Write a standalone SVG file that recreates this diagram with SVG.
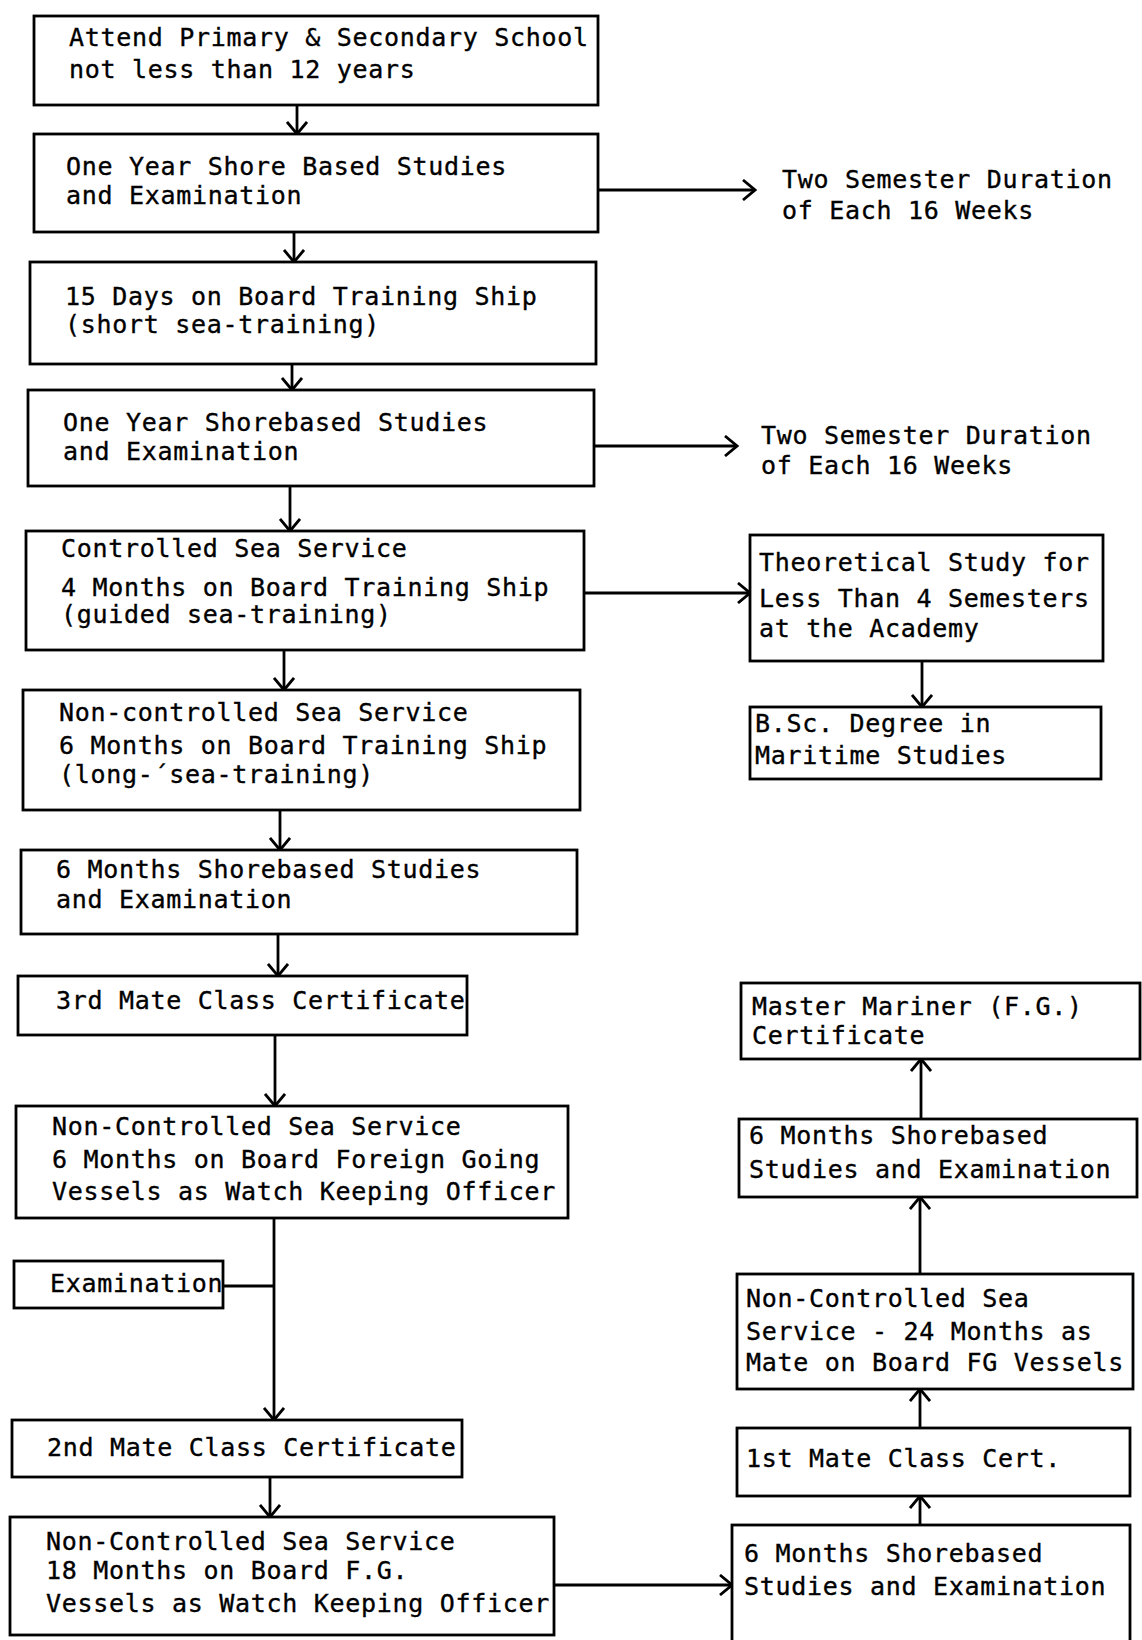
<svg xmlns="http://www.w3.org/2000/svg" width="1142" height="1640" viewBox="0 0 1142 1640">
<style>
.box{fill:#fff;stroke:#000;stroke-width:2.8}
.t{font-family:"DejaVu Sans Mono","Liberation Mono",monospace;font-size:25px;letter-spacing:0.7px;fill:#000;stroke:#000;stroke-width:0.35}
.c{fill:none;stroke:#000;stroke-width:2.8}
</style>
<defs>
<marker id="ah" viewBox="0 0 16 22" refX="14" refY="11" markerWidth="16" markerHeight="22" markerUnits="userSpaceOnUse" orient="auto">
<path d="M2,1 L14,11 L2,21" fill="none" stroke="#000" stroke-width="2.8"/>
</marker>
</defs>
<rect width="1142" height="1640" fill="#fff"/>
<g id="connectors">
<line class="c" x1="297" y1="105" x2="297" y2="134" marker-end="url(#ah)"/>
<line class="c" x1="294" y1="232" x2="294" y2="262" marker-end="url(#ah)"/>
<line class="c" x1="598" y1="190" x2="755" y2="190" marker-end="url(#ah)"/>
<line class="c" x1="292" y1="364" x2="292" y2="390" marker-end="url(#ah)"/>
<line class="c" x1="290" y1="486" x2="290" y2="531" marker-end="url(#ah)"/>
<line class="c" x1="594" y1="446" x2="737" y2="446" marker-end="url(#ah)"/>
<line class="c" x1="284" y1="650" x2="284" y2="690" marker-end="url(#ah)"/>
<line class="c" x1="584" y1="593" x2="750" y2="593" marker-end="url(#ah)"/>
<line class="c" x1="922" y1="661" x2="922" y2="707" marker-end="url(#ah)"/>
<line class="c" x1="280" y1="810" x2="280" y2="850" marker-end="url(#ah)"/>
<line class="c" x1="278" y1="934" x2="278" y2="976" marker-end="url(#ah)"/>
<line class="c" x1="275" y1="1035" x2="275" y2="1106" marker-end="url(#ah)"/>
<line class="c" x1="274" y1="1218" x2="274" y2="1420" marker-end="url(#ah)"/>
<line class="c" x1="223" y1="1286" x2="274" y2="1286"/>
<line class="c" x1="270" y1="1477" x2="270" y2="1517" marker-end="url(#ah)"/>
<line class="c" x1="554" y1="1585" x2="732" y2="1585" marker-end="url(#ah)"/>
<line class="c" x1="920" y1="1525" x2="920" y2="1496" marker-end="url(#ah)"/>
<line class="c" x1="920" y1="1428" x2="920" y2="1389" marker-end="url(#ah)"/>
<line class="c" x1="920" y1="1274" x2="920" y2="1197" marker-end="url(#ah)"/>
<line class="c" x1="921" y1="1119" x2="921" y2="1059" marker-end="url(#ah)"/>
</g>
<g id="n1"><rect class="box" x="34" y="16" width="564" height="89"/>
<text class="t" x="69" y="46">Attend Primary &amp; Secondary School</text>
<text class="t" x="69" y="78">not less than 12 years</text></g>
<g id="n2"><rect class="box" x="34" y="134" width="564" height="98"/>
<text class="t" x="66" y="175">One Year Shore Based Studies</text>
<text class="t" x="66" y="204">and Examination</text></g>
<g id="n2note">
<text class="t" x="782" y="188">Two Semester Duration</text>
<text class="t" x="782" y="219">of Each 16 Weeks</text></g>
<g id="n3"><rect class="box" x="30" y="262" width="566" height="102"/>
<text class="t" x="65" y="305">15 Days on Board Training Ship</text>
<text class="t" x="65" y="333">(short sea-training)</text></g>
<g id="n4"><rect class="box" x="28" y="390" width="566" height="96"/>
<text class="t" x="63" y="431">One Year Shorebased Studies</text>
<text class="t" x="63" y="460">and Examination</text></g>
<g id="n4note">
<text class="t" x="761" y="444">Two Semester Duration</text>
<text class="t" x="761" y="474">of Each 16 Weeks</text></g>
<g id="n5"><rect class="box" x="26" y="531" width="558" height="119"/>
<text class="t" x="61" y="557">Controlled Sea Service</text>
<text class="t" x="61" y="596">4 Months on Board Training Ship</text>
<text class="t" x="61" y="623">(guided sea-training)</text></g>
<g id="nT"><rect class="box" x="750" y="535" width="353" height="126"/>
<text class="t" x="759" y="571">Theoretical Study for</text>
<text class="t" x="759" y="607">Less Than 4 Semesters</text>
<text class="t" x="759" y="637">at the Academy</text></g>
<g id="nB"><rect class="box" x="750" y="707" width="351" height="72"/>
<text class="t" x="755" y="732">B.Sc. Degree in</text>
<text class="t" x="755" y="764">Maritime Studies</text></g>
<g id="n6"><rect class="box" x="23" y="690" width="557" height="120"/>
<text class="t" x="59" y="721">Non-controlled Sea Service</text>
<text class="t" x="59" y="754">6 Months on Board Training Ship</text>
<text class="t" x="59" y="783">(long-´sea-training)</text></g>
<g id="n7"><rect class="box" x="21" y="850" width="556" height="84"/>
<text class="t" x="56" y="878">6 Months Shorebased Studies</text>
<text class="t" x="56" y="908">and Examination</text></g>
<g id="n8"><rect class="box" x="18" y="976" width="449" height="59"/>
<text class="t" x="56" y="1009">3rd Mate Class Certificate</text></g>
<g id="n9"><rect class="box" x="16" y="1106" width="552" height="112"/>
<text class="t" x="52" y="1135">Non-Controlled Sea Service</text>
<text class="t" x="52" y="1168">6 Months on Board Foreign Going</text>
<text class="t" x="52" y="1200">Vessels as Watch Keeping Officer</text></g>
<g id="nE"><rect class="box" x="14" y="1261" width="209" height="47"/>
<text class="t" x="50" y="1292">Examination</text></g>
<g id="n10"><rect class="box" x="12" y="1420" width="450" height="57"/>
<text class="t" x="47" y="1456">2nd Mate Class Certificate</text></g>
<g id="n11"><rect class="box" x="10" y="1517" width="544" height="118"/>
<text class="t" x="46" y="1550">Non-Controlled Sea Service</text>
<text class="t" x="46" y="1579">18 Months on Board F.G.</text>
<text class="t" x="46" y="1612">Vessels as Watch Keeping Officer</text></g>
<g id="r1"><rect class="box" x="732" y="1525" width="398" height="125"/>
<text class="t" x="744" y="1562">6 Months Shorebased</text>
<text class="t" x="744" y="1595">Studies and Examination</text></g>
<g id="r2"><rect class="box" x="737" y="1428" width="393" height="68"/>
<text class="t" x="746" y="1467">1st Mate Class Cert.</text></g>
<g id="r3"><rect class="box" x="737" y="1274" width="396" height="115"/>
<text class="t" x="746" y="1307">Non-Controlled Sea</text>
<text class="t" x="746" y="1340">Service - 24 Months as</text>
<text class="t" x="746" y="1371">Mate on Board FG Vessels</text></g>
<g id="r4"><rect class="box" x="739" y="1119" width="398" height="78"/>
<text class="t" x="749" y="1144">6 Months Shorebased</text>
<text class="t" x="749" y="1178">Studies and Examination</text></g>
<g id="r5"><rect class="box" x="741" y="983" width="399" height="76"/>
<text class="t" x="752" y="1015">Master Mariner (F.G.)</text>
<text class="t" x="752" y="1044">Certificate</text></g>
</svg>
